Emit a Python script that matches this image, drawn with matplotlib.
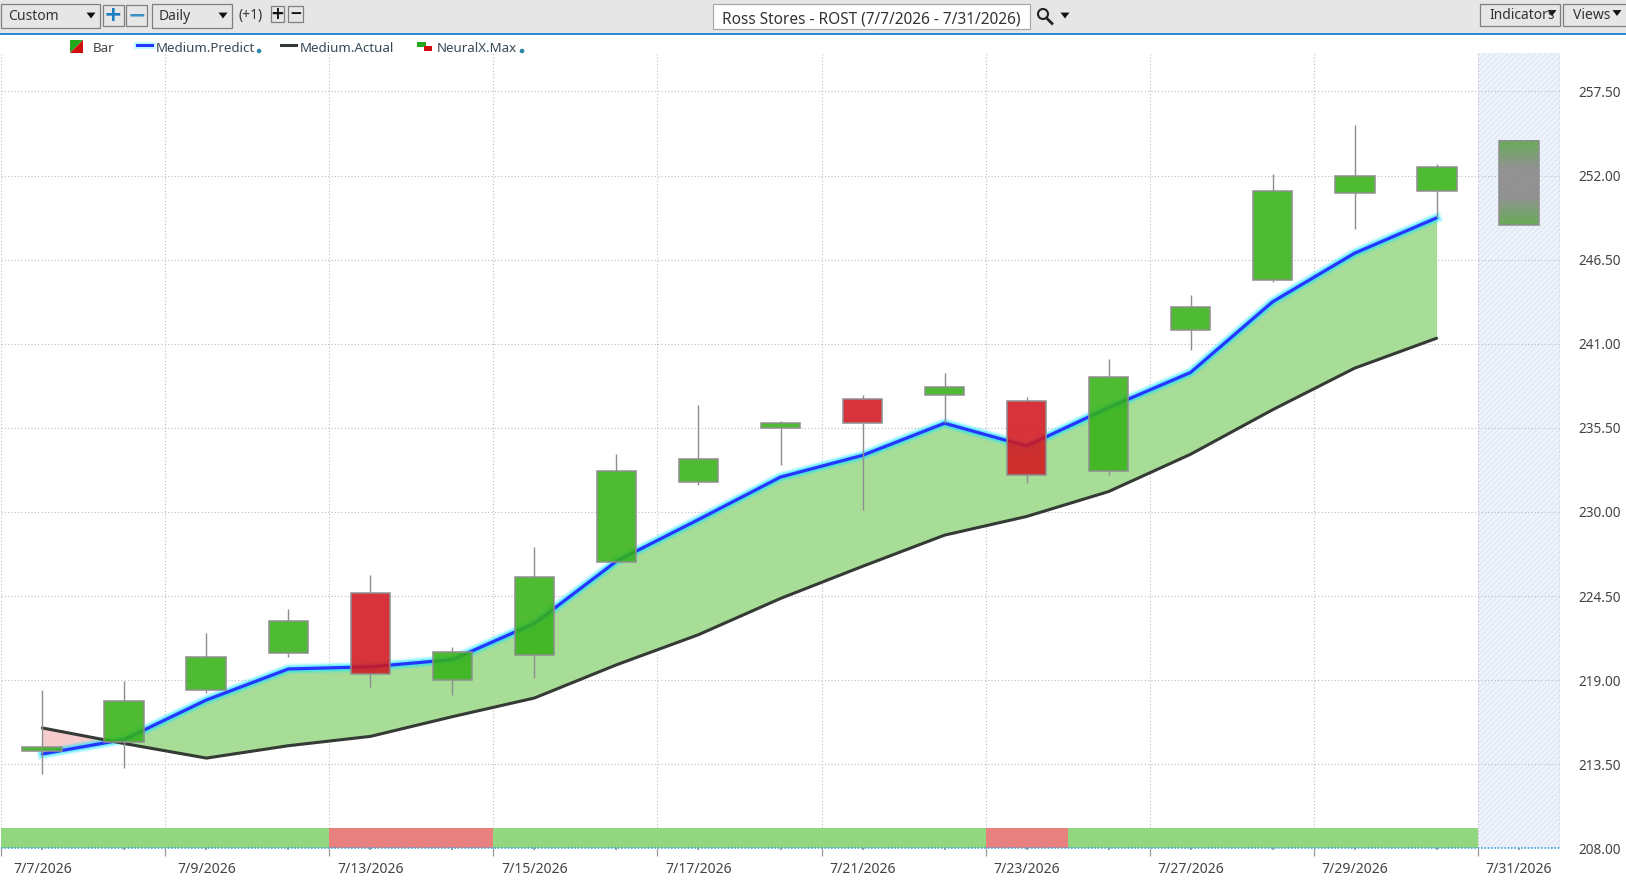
import matplotlib
matplotlib.use("Agg")
import matplotlib.pyplot as plt
import numpy as np
from matplotlib.patches import Rectangle, Polygon, Circle
from matplotlib.ticker import FixedLocator, NullFormatter
from matplotlib.colors import LinearSegmentedColormap

plt.rcParams['font.family'] = ['Noto Sans', 'DejaVu Sans']
plt.rcParams['hatch.linewidth'] = 0.4

W, H = 1626, 881

# ---- data ----
date_labels = ["7/7/2026", "7/9/2026", "7/13/2026", "7/15/2026", "7/17/2026",
               "7/21/2026", "7/23/2026", "7/27/2026", "7/29/2026", "7/31/2026"]
label_days = [0, 2, 4, 6, 8, 10, 12, 14, 16, 18]
days = list(range(18))
opens = [214.37, 214.92, 218.37, 220.75, 224.68, 218.99, 220.61, 226.72, 231.94,
         235.46, 237.36, 237.63, 237.23, 232.68, 241.91, 245.16, 250.86, 250.99]
closes = [214.65, 217.63, 220.54, 222.85, 219.39, 220.82, 225.77, 232.68, 233.43,
          235.80, 235.80, 238.18, 232.41, 238.85, 243.40, 250.99, 251.94, 252.55]
highs = [218.37, 218.92, 222.10, 223.66, 225.90, 221.16, 227.73, 233.77, 237.02,
         235.94, 237.63, 239.06, 237.50, 240.01, 244.21, 252.08, 255.33, 252.75]
lows = [212.88, 213.22, 218.17, 220.48, 218.58, 218.04, 219.12, 226.65, 231.73,
        233.09, 230.11, 235.80, 231.87, 232.41, 240.62, 245.02, 248.48, 249.23]
predict = [214.17, 215.12, 217.70, 219.73, 219.87, 220.34, 222.71, 226.78, 229.50,
           232.28, 233.70, 235.80, 234.31, 236.82, 239.12, 243.74, 246.92, 249.23]
actual = [215.87, 214.85, 213.90, 214.71, 215.32, 216.61, 217.83, 220.00, 221.97,
          224.34, 226.44, 228.48, 229.70, 231.33, 233.77, 236.68, 239.40, 241.36]
signal = ["G", "G", "G", "G", "R", "R", "G", "G", "G", "G", "G", "G", "R",
          "G", "G", "G", "G", "G"]
forecast_day = 18
forecast_low = 248.75
forecast_high = 254.25
y_ticks = [208.0, 213.5, 219.0, 224.5, 230.0, 235.5, 241.0, 246.5, 252.0, 257.5]
grid_days = [-0.5, 1.5, 3.5, 5.5, 7.5, 9.5, 11.5, 13.5, 15.5, 17.5]
strip_height = 1.33

GREEN = '#35b217'
RED = '#d3171f'
EDGE = '#8e8e8e'
TXT = '#444444'

fig = plt.figure(figsize=(W / 100, H / 100), dpi=100, facecolor='white')
x0, x1, ytop, ybot = 1.4, 1559.6, 53, 848.3
ax = fig.add_axes([x0 / W, 1 - ybot / H, (x1 - x0) / W, (ybot - ytop) / H])
for s in ax.spines.values():
    s.set_visible(False)

d = np.array(days, dtype=float)
pr = np.array(predict)
ac = np.array(actual)

# forecast zone
ax.axvspan(17.5, 18.5, facecolor='#eef2fa', edgecolor='#d2dcef', hatch='//////', lw=0, zorder=0)
ax.axvline(18.5, color='#6f93ad', lw=1, ls=(0, (1, 1.5)), zorder=1)

# grid
ax.set_axisbelow(False)
for g in y_ticks[1:]:
    ax.axhline(g, color='#bdbdbd', lw=0.8, ls=(0, (1, 2)), zorder=1)
for g in grid_days:
    ax.axvline(g, color='#bdbdbd', lw=0.8, ls=(0, (1, 2)), zorder=1)

# band between lines
ax.fill_between(d, pr, ac, where=pr >= ac, interpolate=True, color='#a8dd98', lw=0, zorder=2)
ax.fill_between(d, pr, ac, where=pr <= ac, interpolate=True, color='#f6cccc', lw=0, zorder=2)

# signal strip
ax.bar(days, [strip_height] * len(days), width=1.0, bottom=y_ticks[0],
       color=['#93d680' if s == 'G' else '#e88080' for s in signal], lw=0, zorder=2)
ax.axhline(y_ticks[0], color='#3aa3dc', lw=1.2, ls=(0, (1, 1)), zorder=3, clip_on=False)

# lines with glow
for lw, a in [(8, 0.14), (6, 0.24), (4.5, 0.40)]:
    ax.plot(d, pr, color='#19e5ff', lw=lw, alpha=a, zorder=3, solid_joinstyle='round')
ax.plot(d, pr, color='#2436ff', lw=2.3, zorder=4, solid_capstyle='round')
ax.plot(d, ac, color='#343a34', lw=2.2, zorder=4, solid_capstyle='round')

# candles
for i, o, c, h, l in zip(days, opens, closes, highs, lows):
    col = GREEN if c >= o else RED
    ax.vlines(i, l, min(o, c), color=EDGE, lw=1, zorder=5)
    ax.vlines(i, max(o, c), h, color=EDGE, lw=1, zorder=5)
    ax.add_patch(Rectangle((i - 0.243, min(o, c)), 0.486, abs(c - o), facecolor=col,
                           edgecolor='none', alpha=0.88, zorder=6))
    ax.add_patch(Rectangle((i - 0.243, min(o, c)), 0.486, abs(c - o), facecolor='none',
                           edgecolor=EDGE, lw=1.1, zorder=7))

# forecast candle with gradient
cm = LinearSegmentedColormap.from_list('fc', ['#67ab58', '#929292', '#929292', '#67ab58'])
ax.imshow(np.linspace(0, 1, 200).reshape(-1, 1), cmap=cm, aspect='auto', zorder=6,
          interpolation='bilinear',
          extent=(forecast_day - 0.243, forecast_day + 0.243, forecast_low, forecast_high))
ax.add_patch(Rectangle((forecast_day - 0.243, forecast_low), 0.486, forecast_high - forecast_low,
                       facecolor='none', edgecolor=EDGE, lw=1.1, zorder=7))

ax.set_xlim(-0.5, 18.5)
ax.set_ylim(208, 208 + (ybot - ytop) / 15.29)

# axes ticks
ax.yaxis.tick_right()
ax.set_yticks(y_ticks)
ax.set_yticklabels([f"{v:.2f}" for v in y_ticks], fontsize=9.8, color=TXT)
ax.tick_params(axis='y', length=0, pad=13.5)
ax.set_xticks(label_days)
ax.set_xticklabels(date_labels, fontsize=10.1, color=TXT)
ax.tick_params(axis='x', which='major', length=1.6, width=1.3, color='#999999', pad=8)
ax.xaxis.set_minor_locator(FixedLocator(grid_days))
ax.xaxis.set_minor_formatter(NullFormatter())
ax.tick_params(axis='x', which='minor', length=6, width=0.9, color='#999999')
sec = ax.secondary_xaxis('bottom')
sec.set_xticks([i for i in days if i % 2 == 1])
sec.set_xticklabels([])
sec.tick_params(length=1.6, width=1.3, color='#999999')
sec.spines['bottom'].set_visible(False)

# ---- toolbar and legend chrome, in pixel coordinates ----
ui = fig.add_axes([0, 0, 1, 1], facecolor='none', zorder=10)
ui.set_xlim(0, W)
ui.set_ylim(H, 0)
ui.axis('off')


def box(x, y, w, h, fc='#e6e6e6', ec='#7f7f7f', lw=0.9):
    ui.add_patch(Rectangle((x, y), w, h, facecolor=fc, edgecolor=ec, lw=lw))


def tri(cx, cy, s=4.5, col='#111111'):
    ui.add_patch(Polygon([(cx - s, cy - s * 0.65), (cx + s, cy - s * 0.65), (cx, cy + s * 0.65)],
                         closed=True, color=col, lw=0))


def label(x, y, s, size=9.6, ha='left', **kw):
    kw.setdefault('color', TXT)
    ui.text(x, y, s, fontsize=size, ha=ha, va='center', **kw)


ui.add_patch(Rectangle((0, 0), W, 34, facecolor='#e6e6e6', lw=0))
ui.add_patch(Rectangle((0, 33.3), W, 1.4, facecolor='#2b88d8', lw=0))

box(0.5, 3.5, 99, 24)
label(8, 16, "Custom", size=10, color='#333333')
tri(91, 15.5)
box(102.5, 5, 21, 21)
label(113, 15.2, "+", size=16, ha='center', color='#1c7fc0', fontweight='bold', family='DejaVu Sans')
box(126, 5, 21, 21)
label(136.5, 15.2, "\u2212", size=16, ha='center', color='#3e8fc4', fontweight='bold', family='DejaVu Sans')
box(152, 3.5, 80, 24)
label(159, 16, "Daily", size=10, color='#333333')
tri(223, 15.5)
label(238, 16, "(+1)", size=10, color='#333333')
box(271, 6, 13, 16)
label(277.5, 14, "+", size=12, ha='center', color='#111111', fontweight='bold', family='DejaVu Sans')
box(288, 6, 15, 16)
label(295.5, 14, "\u2212", size=11, ha='center', color='#111111', fontweight='bold', family='DejaVu Sans')

ui.add_patch(Rectangle((713, 4), 317, 25, facecolor='white', edgecolor='#a8a8a8', lw=0.9))
label(871.5, 20, "Ross Stores - ROST (7/7/2026 - 7/31/2026)", size=11.1, ha='center', color='#333333')
ui.add_patch(Circle((1043, 14), 5, facecolor='none', edgecolor='#222222', lw=1.5))
ui.plot([1046.5, 1052], [18, 23.5], color='#222222', lw=2)
tri(1065, 15.5)

box(1480, 3.5, 80, 22)
label(1489, 15.5, "Indicators", size=10, color='#333333')
tri(1552, 13)
box(1563, 3.5, 70, 22)
label(1573, 15.5, "Views", size=10, color='#333333')
tri(1617, 13)

# legend
ly = 48.5
lline = 44.5
ui.add_patch(Polygon([(70, 40), (83, 40), (70, 53)], closed=True, color='#22a81c', lw=0))
ui.add_patch(Polygon([(83, 40), (83, 53), (70, 53)], closed=True, color='#d01010', lw=0))
label(93, ly, "Bar")
ui.plot([137, 152], [lline, lline], color='#19e5ff', lw=5, alpha=0.25)
ui.plot([137, 152], [lline, lline], color='#2436ff', lw=2.2)
label(156, ly, "Medium.Predict", color='#3a4a55')
ui.add_patch(Circle((259, 51), 2.3, color='#2f87a8', lw=0))
ui.plot([281, 296], [lline, lline], color='#343a34', lw=2.2)
label(300, ly, "Medium.Actual", color='#3a4a55')
ui.add_patch(Rectangle((417, 42), 9, 4.5, color='#22a81c', lw=0))
ui.add_patch(Rectangle((423.5, 46), 8.5, 4.5, color='#d01010', lw=0))
label(437, ly, "NeuralX.Max", color='#3a4a55')
ui.add_patch(Circle((522, 51), 2.3, color='#2f87a8', lw=0))

fig.savefig("out.png", dpi=100)
